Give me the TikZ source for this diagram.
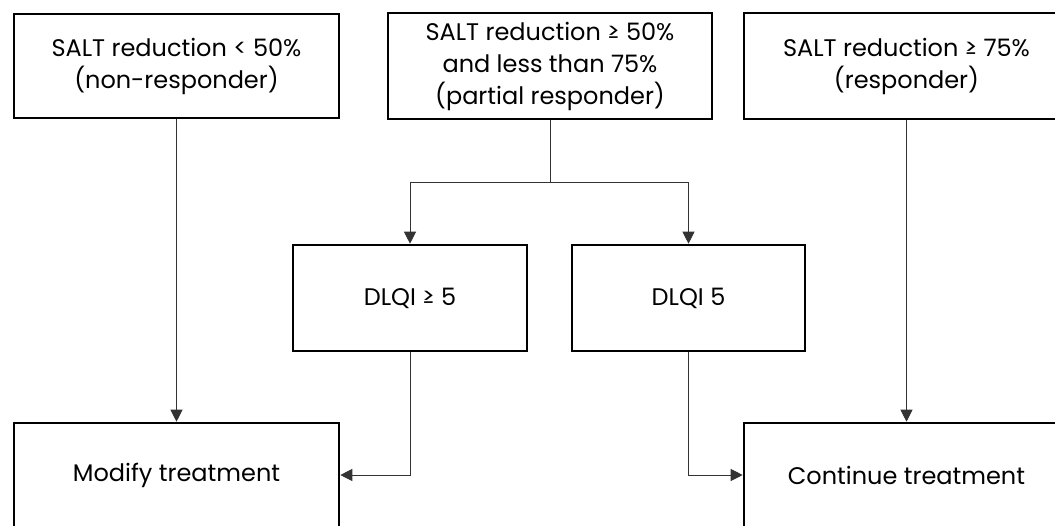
\documentclass[tikz,border=0pt]{standalone}
\usepackage{fontspec}
\setmainfont{Poppins}
\usetikzlibrary{arrows.meta}
\begin{document}
\begin{tikzpicture}[x=1pt,y=-1pt,
 box/.style={draw=black, line width=2.6pt, inner sep=0pt, align=center, font=\fontsize{24}{32}\selectfont},
 conn/.style={draw=black!80, line width=0.9pt},
 arr/.style={conn, -{Triangle[length=12pt,width=12pt]}}]
\useasboundingbox (0,0) rectangle (1055,525);
\clip (0,0) rectangle (1055,525);
\node[box, minimum width=325pt, minimum height=104pt] (b1) at (176.5,66) {SALT reduction < 50\%\\(non-responder)};
\node[box, minimum width=324pt, minimum height=106pt] (b2) at (550,66) {SALT reduction ≥ 50\%\\and less than 75\%\\(partial responder)};
\node[box, minimum width=325pt, minimum height=106pt] (b3) at (906.5,66) {SALT reduction ≥ 75\%\\(responder)};
\node[box, minimum width=234pt, minimum height=106pt] (d1) at (410,298) {DLQI ≥ 5};
\node[box, minimum width=233pt, minimum height=106pt] (d2) at (688.5,298) {DLQI 5};
\node[box, minimum width=325pt, minimum height=104pt] (m) at (176.5,475) {Modify treatment};
\node[box, minimum width=325pt, minimum height=104pt] (c) at (906.5,475) {Continue treatment};
\coordinate (split) at (550,182);
\draw[conn] (b2.south) -- (split);
\draw[arr] (split) -| (d1.north);
\draw[arr] (split) -| (d2.north);
\draw[arr] (b1.south) -- (m.north);
\draw[arr] (b3.south) -- (c.north);
\draw[arr] (d1.south) |- (m.east);
\draw[arr] (d2.south) |- (c.west);
\end{tikzpicture}
\end{document}
